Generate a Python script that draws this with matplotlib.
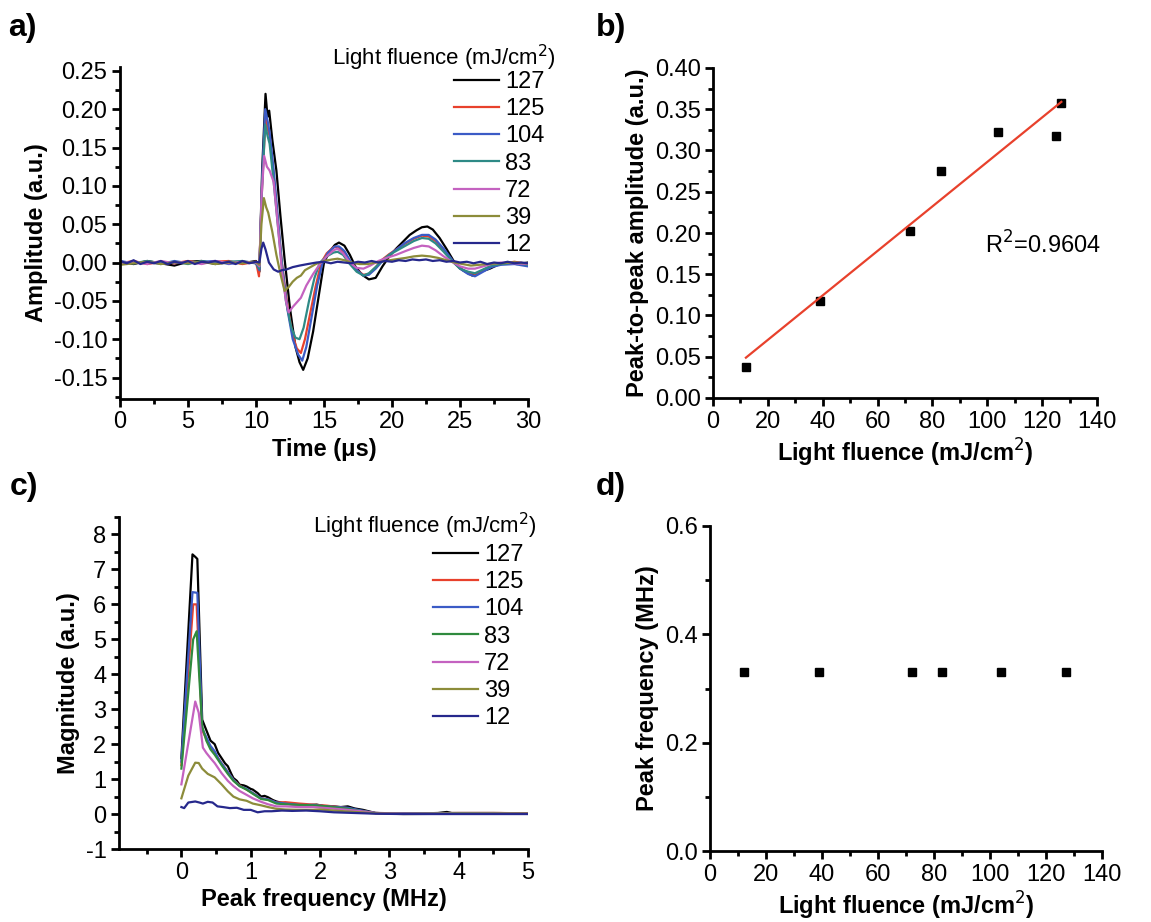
import matplotlib
matplotlib.use("Agg")
import matplotlib.pyplot as plt
import numpy as np
from matplotlib.ticker import MultipleLocator

plt.rcParams['font.family'] = ['Liberation Sans', 'DejaVu Sans']
plt.rcParams['axes.unicode_minus'] = False

# --- data ---
fluences = ['127', '125', '104', '83', '72', '39', '12']

# a) waveforms: (time us, amplitude a.u.)
wave_127 = [(0, 0.001), (1, -0.002), (2, 0.002), (3, -0.001), (4, -0.004), (5, 0.001), (6, 0.002),
            (7, -0.002), (8, 0.001), (9, -0.001), (10, 0.002), (10.25, -0.012), (10.45, 0.12),
            (10.7, 0.220), (10.85, 0.19), (10.97, 0.198), (11.2, 0.16), (11.5, 0.12), (11.8, 0.06),
            (12.1, 0.005), (12.5, -0.06), (12.9, -0.11), (13.2, -0.13), (13.47, -0.140), (13.8, -0.125),
            (14.2, -0.09), (14.6, -0.045), (15.0, 0.0), (15.4, 0.014), (15.8, 0.023), (16.1, 0.026),
            (16.5, 0.022), (16.9, 0.01), (17.3, -0.005), (17.8, -0.016), (18.3, -0.022), (18.8, -0.02),
            (19.3, -0.005), (19.8, 0.008), (20.3, 0.018), (20.8, 0.027), (21.3, 0.036), (21.8, 0.042),
            (22.2, 0.046), (22.6, 0.047), (23.0, 0.043), (23.5, 0.032), (24.0, 0.018), (24.6, 0.0),
            (25.2, -0.01), (25.9, -0.017), (26.5, -0.012), (27.2, -0.008), (27.9, -0.002), (28.5, 0.0),
            (29.2, -0.002), (30, 0.0)]
wave_125 = [(0, -0.001), (1, 0.002), (2, -0.002), (3, 0.001), (4, -0.001), (5, 0.002), (6, -0.001),
            (7, 0.001), (8, 0.002), (9, -0.002), (10, 0.001), (10.22, -0.018), (10.45, 0.1), (10.7, 0.19),
            (10.85, 0.175), (11.0, 0.165), (11.3, 0.115), (11.6, 0.055), (11.9, 0.0), (12.3, -0.055),
            (12.7, -0.095), (13.0, -0.112), (13.3, -0.118), (13.6, -0.1), (14.0, -0.065), (14.4, -0.03),
            (14.8, 0.0), (15.2, 0.012), (15.7, 0.02), (16.0, 0.02), (16.4, 0.014), (16.9, 0.002),
            (17.4, -0.01), (17.9, -0.016), (18.3, -0.015), (18.8, -0.006), (19.3, 0.004), (19.8, 0.011),
            (20.4, 0.018), (21.0, 0.025), (21.6, 0.031), (22.2, 0.035), (22.7, 0.034), (23.2, 0.028),
            (23.8, 0.016), (24.4, 0.003), (25.0, -0.008), (25.6, -0.013), (26.1, -0.015), (26.7, -0.01),
            (27.3, -0.005), (28, -0.002), (29, 0.001), (30, -0.002)]
wave_104 = [(0, 0.002), (1, -0.001), (2, 0.001), (3, -0.002), (4, 0.002), (5, -0.001), (6, 0.001),
            (7, 0.002), (8, -0.002), (9, 0.001), (10, -0.001), (10.25, -0.01), (10.45, 0.11), (10.68, 0.200),
            (10.85, 0.185), (11.0, 0.17), (11.3, 0.12), (11.6, 0.06), (11.9, 0.0), (12.3, -0.06),
            (12.7, -0.1), (13.1, -0.12), (13.4, -0.128), (13.7, -0.11), (14.1, -0.07), (14.5, -0.03),
            (14.9, 0.0), (15.3, 0.013), (15.8, 0.021), (16.1, 0.021), (16.5, 0.015), (16.9, 0.003),
            (17.4, -0.01), (17.9, -0.017), (18.3, -0.016), (18.8, -0.008), (19.3, 0.002), (19.8, 0.01),
            (20.4, 0.018), (21.0, 0.026), (21.6, 0.032), (22.2, 0.036), (22.7, 0.036), (23.2, 0.03),
            (23.8, 0.018), (24.4, 0.004), (25.0, -0.008), (25.6, -0.015), (26.1, -0.018), (26.7, -0.012),
            (27.3, -0.006), (28, -0.003), (29, -0.002), (30, -0.005)]
wave_83 = [(0, 0.001), (1, -0.001), (2, 0.002), (3, -0.001), (4, 0.001), (5, -0.002), (6, 0.002),
           (7, -0.001), (8, 0.001), (9, 0.002), (10, -0.001), (10.25, -0.008), (10.45, 0.1), (10.68, 0.18),
           (10.85, 0.165), (11.0, 0.155), (11.3, 0.105), (11.6, 0.05), (11.9, -0.005), (12.2, -0.05),
           (12.6, -0.085), (12.9, -0.098), (13.2, -0.1), (13.5, -0.085), (13.9, -0.05), (14.3, -0.02),
           (14.7, 0.0), (15.2, 0.008), (15.7, 0.013), (16.0, 0.014), (16.4, 0.01), (16.9, -0.002),
           (17.4, -0.012), (17.9, -0.017), (18.3, -0.014), (18.8, -0.006), (19.3, 0.003), (19.8, 0.01),
           (20.4, 0.016), (21.0, 0.022), (21.6, 0.028), (22.2, 0.032), (22.7, 0.031), (23.2, 0.025),
           (23.8, 0.014), (24.4, 0.002), (25.0, -0.008), (25.6, -0.012), (26.1, -0.014), (26.7, -0.009),
           (27.3, -0.004), (28, -0.002), (29, 0.0), (30, -0.003)]
wave_72 = [(0, -0.001), (1, 0.001), (2, -0.002), (3, 0.002), (4, -0.001), (5, 0.001), (6, -0.002),
           (7, 0.002), (8, -0.001), (9, 0.001), (10, 0.0), (10.25, -0.005), (10.42, 0.09), (10.6, 0.139),
           (10.8, 0.125), (11.0, 0.12), (11.3, 0.105), (11.6, 0.05), (11.9, -0.01), (12.2, -0.05),
           (12.4, -0.065), (12.7, -0.058), (13.0, -0.052), (13.3, -0.046), (13.7, -0.03), (14.2, -0.015),
           (14.7, -0.002), (15.2, 0.008), (15.7, 0.016), (16.0, 0.018), (16.4, 0.012), (16.9, 0.0),
           (17.4, -0.007), (17.9, -0.008), (18.4, -0.004), (19.0, 0.002), (19.6, 0.006), (20.3, 0.01),
           (21.0, 0.015), (21.6, 0.019), (22.2, 0.022), (22.7, 0.021), (23.2, 0.016), (23.8, 0.008),
           (24.4, 0.001), (25.0, -0.005), (25.6, -0.008), (26.1, -0.008), (26.7, -0.005), (27.3, -0.002),
           (28, 0.0), (29, -0.001), (30, -0.002)]
wave_39 = [(0, -0.003), (1, -0.001), (2, 0.001), (3, -0.002), (4, 0.0), (5, -0.001), (6, 0.001),
           (7, -0.002), (8, 0.0), (9, -0.001), (10, 0.001), (10.25, -0.003), (10.4, 0.05), (10.58, 0.084),
           (10.75, 0.072), (10.9, 0.065), (11.2, 0.04), (11.5, 0.01), (11.8, -0.015), (12.1, -0.037),
           (12.4, -0.032), (12.7, -0.025), (13.0, -0.02), (13.3, -0.017), (13.6, -0.01), (14.0, -0.006),
           (14.4, -0.002), (15.0, 0.002), (15.6, 0.004), (16.0, 0.005), (16.5, 0.003), (17.0, 0.0),
           (17.6, -0.002), (18.2, -0.002), (18.8, 0.0), (19.5, 0.002), (20.2, 0.004), (21.0, 0.006),
           (21.6, 0.008), (22.2, 0.009), (22.8, 0.008), (23.4, 0.006), (24.0, 0.003), (24.6, 0.0),
           (25.2, -0.002), (25.8, -0.004), (26.4, -0.003), (27.0, -0.002), (28, -0.001), (29, 0.0),
           (30, -0.001)]
wave_12 = [(0, 0.002), (0.5, -0.001), (1, 0.003), (1.5, -0.002), (2, 0.001), (2.5, -0.001), (3, 0.002),
           (3.5, -0.002), (4, 0.001), (4.5, -0.001), (5, 0.002), (5.5, -0.002), (6, 0.001), (6.5, 0.0),
           (7, 0.002), (7.5, -0.001), (8, 0.001), (8.5, -0.002), (9, 0.002), (9.5, -0.001), (10, 0.001),
           (10.25, 0.0), (10.4, 0.018), (10.53, 0.026), (10.7, 0.017), (10.95, 0.0), (11.3, -0.009),
           (11.63, -0.012), (11.9, -0.01), (12.25, -0.009), (12.7, -0.006), (13.2, -0.004), (13.8, -0.002),
           (14.45, 0.0), (15.0, 0.001), (15.5, -0.001), (16.0, 0.001), (16.5, 0.0), (17.0, -0.001),
           (17.5, 0.001), (18, 0.0), (18.5, 0.002), (19, 0.0), (19.5, 0.002), (20, 0.001), (20.5, 0.003),
           (21, 0.002), (21.5, 0.004), (22, 0.003), (22.5, 0.004), (23, 0.002), (23.5, 0.003), (24, 0.001),
           (24.5, 0.002), (25, 0.0), (25.5, 0.001), (26, -0.001), (26.5, 0.001), (27, -0.002), (27.5, 0.0),
           (28, -0.001), (28.5, 0.001), (29, -0.001), (29.5, 0.0), (30, -0.001)]

# b) peak-to-peak amplitude vs fluence
p2p_fluence = [12, 39, 72, 83, 104, 125, 127]
p2p_amp = [0.038, 0.118, 0.202, 0.275, 0.323, 0.318, 0.357]

# c) spectra: (frequency MHz, magnitude a.u.)
spec_127 = [(0, 1.6), (0.16, 7.43), (0.2, 7.36), (0.23, 7.3), (0.3, 2.7), (0.33, 2.55), (0.36, 2.4),
            (0.42, 2.1), (0.48, 2.0), (0.53, 1.75), (0.58, 1.6), (0.63, 1.45), (0.67, 1.37), (0.72, 1.15),
            (0.75, 1.03), (0.8, 0.95), (0.84, 0.84), (0.9, 0.82), (0.94, 0.79), (1.0, 0.72), (1.03, 0.7),
            (1.1, 0.6), (1.15, 0.5), (1.2, 0.52), (1.25, 0.48), (1.32, 0.4), (1.37, 0.36), (1.45, 0.32),
            (1.51, 0.3), (1.6, 0.28), (1.7, 0.27), (1.8, 0.25), (1.95, 0.27), (2.05, 0.23), (2.19, 0.22),
            (2.3, 0.2), (2.4, 0.22), (2.5, 0.16), (2.62, 0.12), (2.7, 0.08), (2.8, 0.03), (3.0, 0.02),
            (3.5, 0.02), (3.7, 0.03), (3.83, 0.06), (3.9, 0.03), (4.5, 0.03), (5.0, 0.02)]
spec_125 = [(0, 1.4), (0.17, 6.0), (0.22, 6.0), (0.3, 2.4), (0.36, 2.15), (0.42, 1.9), (0.48, 1.75),
            (0.58, 1.45), (0.67, 1.2), (0.75, 0.98), (0.84, 0.82), (0.94, 0.7), (1.03, 0.6), (1.15, 0.45),
            (1.25, 0.42), (1.37, 0.33), (1.5, 0.34), (1.7, 0.3), (1.9, 0.27), (2.1, 0.24), (2.4, 0.17),
            (2.6, 0.08), (2.8, 0.03), (3.2, 0.02), (4.0, 0.03), (4.6, 0.03), (5.0, 0.02)]
spec_104 = [(0, 1.5), (0.16, 6.35), (0.23, 6.33), (0.3, 2.45), (0.36, 2.2), (0.42, 1.95), (0.48, 1.8),
            (0.53, 1.6), (0.58, 1.45), (0.67, 1.2), (0.75, 0.98), (0.84, 0.8), (0.94, 0.72), (1.03, 0.6),
            (1.15, 0.45), (1.25, 0.42), (1.37, 0.33), (1.5, 0.3), (1.7, 0.26), (1.9, 0.26), (2.1, 0.22),
            (2.4, 0.18), (2.6, 0.1), (2.8, 0.03), (3.2, 0.02), (4.0, 0.02), (5.0, 0.01)]
spec_83 = [(0, 1.3), (0.17, 5.0), (0.22, 5.23), (0.3, 2.5), (0.36, 2.1), (0.42, 1.85), (0.48, 1.7),
           (0.58, 1.4), (0.67, 1.15), (0.75, 0.95), (0.84, 0.8), (0.94, 0.7), (1.03, 0.58), (1.15, 0.43),
           (1.25, 0.4), (1.37, 0.3), (1.5, 0.28), (1.7, 0.26), (1.9, 0.25), (2.1, 0.22), (2.4, 0.15),
           (2.6, 0.08), (2.8, 0.03), (3.2, 0.01), (4.0, 0.02), (5.0, 0.01)]
spec_72 = [(0, 0.85), (0.2, 3.22), (0.25, 2.9), (0.31, 1.9), (0.36, 1.75), (0.42, 1.6), (0.48, 1.46),
           (0.58, 1.17), (0.67, 0.95), (0.75, 0.8), (0.84, 0.66), (0.94, 0.55), (1.03, 0.45), (1.15, 0.35),
           (1.25, 0.28), (1.37, 0.22), (1.5, 0.22), (1.7, 0.2), (1.9, 0.2), (2.1, 0.17), (2.4, 0.12),
           (2.6, 0.08), (2.8, 0.03), (3.2, 0.01), (4.0, 0.01), (5.0, 0.01)]
spec_39 = [(0, 0.45), (0.1, 1.1), (0.2, 1.47), (0.25, 1.46), (0.3, 1.3), (0.38, 1.15), (0.48, 1.05),
           (0.58, 0.85), (0.67, 0.65), (0.75, 0.5), (0.84, 0.42), (0.94, 0.38), (1.03, 0.3), (1.15, 0.25),
           (1.25, 0.2), (1.37, 0.15), (1.5, 0.13), (1.7, 0.12), (1.9, 0.12), (2.0, 0.13), (2.2, 0.1),
           (2.5, 0.06), (2.8, 0.02), (3.2, 0.0), (4.0, 0.01), (5.0, 0.01)]
spec_12 = [(0, 0.2), (0.04, 0.17), (0.1, 0.33), (0.2, 0.36), (0.26, 0.33), (0.31, 0.3), (0.38, 0.35),
           (0.45, 0.33), (0.52, 0.22), (0.6, 0.2), (0.7, 0.17), (0.8, 0.18), (0.9, 0.12), (1.0, 0.12),
           (1.1, 0.05), (1.2, 0.08), (1.3, 0.08), (1.45, 0.1), (1.6, 0.09), (1.8, 0.1), (2.0, 0.08),
           (2.2, 0.05), (2.5, 0.03), (2.8, 0.01), (3.2, 0.0), (4.0, 0.0), (5.0, 0.0)]

# d) peak frequency vs fluence
pf_fluence = [12, 39, 72, 83, 104, 127]
pf_freq = [0.33, 0.33, 0.33, 0.33, 0.33, 0.33]

waves = [wave_127, wave_125, wave_104, wave_83, wave_72, wave_39, wave_12]
specs = [spec_127, spec_125, spec_104, spec_83, spec_72, spec_39, spec_12]
colors_a = ['#000000', '#e8412c', '#3b5bc6', '#2e8a86', '#c462c0', '#8c8c3a', '#26288c']
colors_c = ['#000000', '#e8412c', '#3b5bc6', '#2f8a3e', '#c462c0', '#8c8c3a', '#26288c']

W, H = 1151, 922
fig = plt.figure(figsize=(W / 100, H / 100), dpi=100)


def px_axes(l, t, r, b):
    return fig.add_axes([l / W, 1 - b / H, (r - l) / W, (b - t) / H])


def style(ax):
    for s in ['top', 'right']:
        ax.spines[s].set_visible(False)
    for s in ['left', 'bottom']:
        ax.spines[s].set_linewidth(2)
    ax.tick_params(which='both', direction='out', width=2, labelsize=17, pad=3)
    ax.tick_params(which='major', length=6)
    ax.tick_params(which='minor', length=3.5)


def legend_block(ax, lines, title, title_xy, anchor):
    fig.text(title_xy[0] / W, 1 - title_xy[1] / H, title, fontsize=16, ha='center', va='center')
    ax.legend(lines, fluences, loc='upper left', bbox_to_anchor=(anchor[0] / W, 1 - anchor[1] / H),
              bbox_transform=fig.transFigure, frameon=False, fontsize=17, handlelength=1.9,
              handletextpad=0.25, labelspacing=0.22, borderpad=0, borderaxespad=0)


# a) waveforms
ax_a = px_axes(120, 67, 528, 399)
lines_a = []
for w, c in zip(waves, colors_a):
    t, a = np.array(w).T
    ln, = ax_a.plot(t, a, color=c, lw=1.6)
    lines_a.append(ln)
ax_a.set_xlim(0, 30)
ax_a.set_ylim(-0.178, 0.255)
ax_a.xaxis.set_major_locator(MultipleLocator(5))
ax_a.xaxis.set_minor_locator(MultipleLocator(2.5))
ax_a.yaxis.set_major_locator(MultipleLocator(0.05))
ax_a.yaxis.set_minor_locator(MultipleLocator(0.025))
ax_a.yaxis.set_major_formatter(lambda v, p: f'{v:.2f}')
style(ax_a)
ax_a.set_xlabel('Time (μs)', fontsize=17, fontweight='bold', labelpad=3)
ax_a.set_ylabel('Amplitude (a.u.)', fontsize=17, fontweight='bold')
legend_block(ax_a, lines_a, 'Light fluence (mJ/cm$^2$)', (444, 58), (454, 71))

# b) peak-to-peak amplitude
ax_b = px_axes(713, 68, 1097, 398)
ax_b.plot(p2p_fluence, p2p_amp, 's', color='black', ms=6)
k, c0 = np.polyfit(p2p_fluence, p2p_amp, 1)
xf = np.array([min(p2p_fluence), max(p2p_fluence)])
ax_b.plot(xf, k * xf + c0, color='#e8412c', lw=1.6)
ax_b.set_xlim(0, 140)
ax_b.set_ylim(0, 0.40)
ax_b.xaxis.set_major_locator(MultipleLocator(20))
ax_b.xaxis.set_minor_locator(MultipleLocator(10))
ax_b.yaxis.set_major_locator(MultipleLocator(0.05))
ax_b.yaxis.set_minor_locator(MultipleLocator(0.025))
ax_b.yaxis.set_major_formatter(lambda v, p: f'{v:.2f}')
style(ax_b)
ax_b.set_xlabel('Light fluence (mJ/cm$^2$)', fontsize=17, fontweight='bold', labelpad=3)
ax_b.set_ylabel('Peak-to-peak amplitude (a.u.)', fontsize=17, fontweight='bold')
ax_b.text(0.708, 0.465, 'R$^2$=0.9604', transform=ax_b.transAxes, fontsize=17, ha='left', va='center')

# c) spectra
ax_c = px_axes(119, 517, 528, 849)
lines_c = []
for s, c in zip(specs, colors_c):
    f, m = np.array(s).T
    ln, = ax_c.plot(f, m, color=c, lw=1.6)
    lines_c.append(ln)
ax_c.set_xlim(-0.9, 5)
ax_c.set_ylim(-1, 8.5)
ax_c.xaxis.set_major_locator(MultipleLocator(1))
ax_c.xaxis.set_minor_locator(MultipleLocator(0.5))
ax_c.yaxis.set_major_locator(MultipleLocator(1))
ax_c.yaxis.set_minor_locator(MultipleLocator(0.5))
style(ax_c)
ax_c.set_xlabel('Peak frequency (MHz)', fontsize=17, fontweight='bold', labelpad=3)
ax_c.set_ylabel('Magnitude (a.u.)', fontsize=17, fontweight='bold')
legend_block(ax_c, lines_c, 'Light fluence (mJ/cm$^2$)', (425, 526), (433, 544))

# d) peak frequency
ax_d = px_axes(710, 526, 1102, 851)
ax_d.plot(pf_fluence, pf_freq, 's', color='black', ms=6)
ax_d.set_xlim(0, 140)
ax_d.set_ylim(0, 0.6)
ax_d.xaxis.set_major_locator(MultipleLocator(20))
ax_d.xaxis.set_minor_locator(MultipleLocator(10))
ax_d.yaxis.set_major_locator(MultipleLocator(0.2))
ax_d.yaxis.set_minor_locator(MultipleLocator(0.1))
ax_d.yaxis.set_major_formatter(lambda v, p: f'{v:.1f}')
style(ax_d)
ax_d.set_xlabel('Light fluence (mJ/cm$^2$)', fontsize=17, fontweight='bold', labelpad=3)
ax_d.set_ylabel('Peak frequency (MHz)', fontsize=17, fontweight='bold')

# panel letters
for lbl, x, y in [('a)', 8, 28), ('b)', 596, 28), ('c)', 10, 487), ('d)', 596, 487)]:
    fig.text(x / W, 1 - y / H, lbl, fontsize=23, fontweight='bold', ha='left', va='center')

fig.savefig('out.png', dpi=100)
